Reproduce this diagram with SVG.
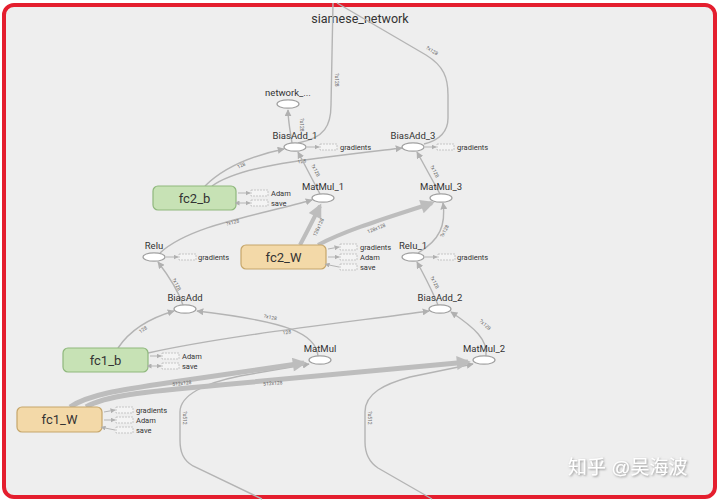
<svg xmlns="http://www.w3.org/2000/svg" width="720" height="501" viewBox="0 0 720 501">
<defs>
<style>
.e{fill:none;stroke:#b4b4b4;stroke-width:1.4}
.t{fill:none;stroke:#bdbdbd;stroke-width:5}
.op{fill:#fff;stroke:#a0a0a0;stroke-width:1.2}
.lb{font-family:Roboto,"Liberation Sans",sans-serif;font-size:9.5px;fill:#333;text-anchor:middle}
.sm{font-family:Roboto,"Liberation Sans",sans-serif;font-size:7.5px;fill:#333}
.el{font-family:Roboto,"Liberation Sans",sans-serif;font-size:5px;fill:#666;text-anchor:middle}
.db{fill:#f4f4f4;stroke:#bbb;stroke-width:0.8;stroke-dasharray:2,1}
.sa{fill:none;stroke:#b4b4b4;stroke-width:1}
.vb{font-family:Roboto,"Liberation Sans",sans-serif;font-size:13px;fill:#333;text-anchor:middle}
.gb{fill:#c7e2b5;stroke:#8fb87d;stroke-width:1.2}
.ob{fill:#f3d9a8;stroke:#c6a66a;stroke-width:1.2}
</style>
<marker id="a" viewBox="0 0 10 10" refX="9" refY="5" markerUnits="userSpaceOnUse" markerWidth="7" markerHeight="7" orient="auto"><path d="M0,0 L10,5 L0,10 z" fill="#b0b0b0"/></marker>
<marker id="as" viewBox="0 0 10 10" refX="1" refY="5" markerUnits="userSpaceOnUse" markerWidth="5" markerHeight="5" orient="auto-start-reverse"><path d="M0,0 L10,5 L0,10 z" fill="#b0b0b0"/></marker>
<marker id="ae" viewBox="0 0 10 10" refX="9" refY="5" markerUnits="userSpaceOnUse" markerWidth="5" markerHeight="5" orient="auto"><path d="M0,0 L10,5 L0,10 z" fill="#b0b0b0"/></marker>
<marker id="at" viewBox="0 0 10 10" refX="8" refY="5" markerUnits="userSpaceOnUse" markerWidth="18" markerHeight="14" orient="auto"><path d="M0,0 L10,5 L0,10 z" fill="#bdbdbd"/></marker>
<filter id="sh" x="-10%" y="-30%" width="120%" height="160%"><feDropShadow dx="1" dy="1" stdDeviation="0.8" flood-color="#777" flood-opacity="0.8"/></filter>
</defs>
<rect x="0" y="0" width="720" height="501" fill="#fff"/>
<rect x="4" y="5" width="711" height="492" rx="10" fill="#eeeeee" stroke="#e41e2e" stroke-width="4"/>
<text x="360" y="23" class="lb" style="font-size:12.5px">siamese_network</text>

<g id="connectors">
<path class="e" d="M298 143 C325 138 331 125 331 105 L333 3"/>
<text class="el" transform="translate(335 80) rotate(90)">?x128</text>
<path class="e" d="M337 3 L426 55 C444 66 448 78 448 95 L448 118 C448 132 440 140 424 144"/>
<text class="el" transform="translate(431 52) rotate(33)">?x128</text>
<path class="e" d="M292 143 C290 130 288 120 288 110" marker-end="url(#a)"/>
<text class="el" transform="translate(300 125) rotate(90)">?x128</text>
<path class="e" d="M205 186 C225 166 255 155 284 149" marker-end="url(#a)"/>
<text class="el" transform="translate(242 167) rotate(-25)">128</text>
<path class="e" d="M212 186 C240 166 300 160 402 148" marker-end="url(#a)"/>
<text class="el" transform="translate(302 163) rotate(-8)">128</text>
<path class="e" d="M320 194 L298 152" marker-end="url(#a)"/>
<text class="el" transform="translate(314 171) rotate(62)">?x128</text>
<path class="e" d="M440 194 L417 152" marker-end="url(#a)"/>
<text class="el" transform="translate(433 172) rotate(62)">?x128</text>
<path class="e" d="M160 253 C190 225 260 215 312 200" marker-end="url(#a)"/>
<text class="el" transform="translate(233 224) rotate(-15)">?x128</text>
<path class="e" d="M418 253 C440 240 446 225 443 203" marker-end="url(#a)"/>
<text class="el" transform="translate(446 232) rotate(-62)">?x128</text>
<path class="e" d="M183 305 C178 290 168 275 158 262" marker-end="url(#a)"/>
<text class="el" transform="translate(175 285) rotate(62)">?x128</text>
<path class="e" d="M438 305 C432 290 424 275 417 262" marker-end="url(#a)"/>
<text class="el" transform="translate(433 283) rotate(62)">?x128</text>
<path class="e" d="M118 348 C130 330 150 318 174 311" marker-end="url(#a)"/>
<text class="el" transform="translate(144 331) rotate(-35)">128</text>
<path class="e" d="M148 353 C230 335 350 322 429 311" marker-end="url(#a)"/>
<text class="el" transform="translate(287 334) rotate(-7)">128</text>
<path class="e" d="M318 356 C316 334 290 322 197 311" marker-end="url(#a)"/>
<text class="el" transform="translate(270 319) rotate(12)">?x128</text>
<path class="e" d="M486 356 C488 340 475 328 451 312" marker-end="url(#a)"/>
<text class="el" transform="translate(484 326) rotate(42)">?x128</text>
<path class="e" d="M262 499 L193 466 C183 460 180 452 180 440 L180 412 C180 395 205 383 240 376 L309 364" marker-end="url(#a)"/>
<text class="el" transform="translate(183 418) rotate(90)">?x512</text>
<path class="e" d="M432 499 L378 468 C369 462 365 454 365 442 L365 412 C365 393 385 384 410 377 L473 364" marker-end="url(#a)"/>
<text class="el" transform="translate(368 418) rotate(90)">?x512</text>
<path class="t" style="stroke-width:4" d="M300 245 C308 230 315 216 320 206" marker-end="url(#at)"/>
<text class="el" transform="translate(320 228) rotate(-65)">128x128</text>
<path class="t" style="stroke-width:4" d="M318 245 C350 228 400 214 432 203" marker-end="url(#at)"/>
<text class="el" transform="translate(377 230) rotate(-22)">128x128</text>
<path class="t" d="M70 407 C90 394 120 390 180 381 L304 363" marker-end="url(#at)"/>
<text class="el" transform="translate(182 385) rotate(-6)">512x128</text>
<path class="t" d="M86 407 C105 396 140 392 220 385 L468 362" marker-end="url(#at)"/>
<text class="el" transform="translate(273 385) rotate(-5)">512x128</text>
</g>

<g id="network_">
<ellipse class="op" cx="288" cy="104" rx="11" ry="4.2"/>
<text class="lb" x="288" y="96">network_...</text>
</g>
<g id="BiasAdd_1">
<ellipse class="op" cx="295" cy="147" rx="11" ry="4.2"/>
<text class="lb" x="295" y="139">BiasAdd_1</text>
<path class="sa" d="M307 147 L319 147" marker-end="url(#ae)"/>
<rect class="db" x="320" y="144" width="17" height="6"/>
<text class="sm" x="340" y="150">gradients</text>
</g>
<g id="BiasAdd_3">
<ellipse class="op" cx="413" cy="147" rx="11" ry="4.2"/>
<text class="lb" x="413" y="139">BiasAdd_3</text>
<path class="sa" d="M425 147 L436 147" marker-end="url(#ae)"/>
<rect class="db" x="437" y="144" width="17" height="6"/>
<text class="sm" x="457" y="150">gradients</text>
</g>
<g id="MatMul_1">
<ellipse class="op" cx="323" cy="198" rx="11" ry="4.2"/>
<text class="lb" x="323" y="190">MatMul_1</text>
</g>
<g id="MatMul_3">
<ellipse class="op" cx="441" cy="198" rx="11" ry="4.2"/>
<text class="lb" x="441" y="190">MatMul_3</text>
</g>
<g id="Relu">
<ellipse class="op" cx="154" cy="257" rx="11" ry="4.2"/>
<text class="lb" x="154" y="249">Relu</text>
<path class="sa" d="M166 257 L178 257" marker-end="url(#ae)"/>
<rect class="db" x="179" y="254" width="17" height="6"/>
<text class="sm" x="198" y="260">gradients</text>
</g>
<g id="Relu_1">
<ellipse class="op" cx="413" cy="257" rx="11" ry="4.2"/>
<text class="lb" x="413" y="249">Relu_1</text>
<path class="sa" d="M425 257 L437 257" marker-end="url(#ae)"/>
<rect class="db" x="438" y="254" width="17" height="6"/>
<text class="sm" x="457" y="260">gradients</text>
</g>
<g id="BiasAdd">
<ellipse class="op" cx="185" cy="309" rx="11" ry="4.2"/>
<text class="lb" x="185" y="301">BiasAdd</text>
</g>
<g id="BiasAdd_2">
<ellipse class="op" cx="440" cy="309" rx="11" ry="4.2"/>
<text class="lb" x="440" y="301">BiasAdd_2</text>
</g>
<g id="MatMul">
<ellipse class="op" cx="320" cy="360" rx="11" ry="4.2"/>
<text class="lb" x="320" y="352">MatMul</text>
</g>
<g id="MatMul_2">
<ellipse class="op" cx="484" cy="360" rx="11" ry="4.2"/>
<text class="lb" x="484" y="352">MatMul_2</text>
</g>

<g id="fc2_b">
<rect class="gb" x="153" y="186" width="83" height="24" rx="5"/>
<text class="vb" x="194.5" y="202.5">fc2_b</text>
<path class="sa" d="M238 193 L250 193" marker-end="url(#ae)"/>
<rect class="db" x="251" y="190" width="17" height="6"/>
<text class="sm" x="271" y="196">Adam</text>
<path class="sa" d="M239 203 L250 203" marker-start="url(#as)" marker-end="url(#ae)"/>
<rect class="db" x="251" y="200" width="17" height="6"/>
<text class="sm" x="271" y="206">save</text>
</g>
<g id="fc2_W">
<rect class="ob" x="241" y="245" width="85" height="24" rx="5"/>
<text class="vb" x="283.5" y="261.5">fc2_W</text>
<path class="sa" d="M328 249 L339 247" marker-end="url(#ae)"/>
<rect class="db" x="340" y="244" width="17" height="6"/>
<text class="sm" x="360" y="250">gradients</text>
<path class="sa" d="M328 257 L339 257" marker-end="url(#ae)"/>
<rect class="db" x="340" y="254" width="17" height="6"/>
<text class="sm" x="360" y="260">Adam</text>
<path class="sa" d="M329 265 L339 267" marker-start="url(#as)"/>
<rect class="db" x="340" y="264" width="17" height="6"/>
<text class="sm" x="360" y="270">save</text>
</g>
<g id="fc1_b">
<rect class="gb" x="63" y="348" width="85" height="24" rx="5"/>
<text class="vb" x="105.5" y="364.5">fc1_b</text>
<path class="sa" d="M150 356 L161 356" marker-end="url(#ae)"/>
<rect class="db" x="162" y="353" width="17" height="6"/>
<text class="sm" x="182" y="359">Adam</text>
<path class="sa" d="M151 366 L161 366" marker-start="url(#as)" marker-end="url(#ae)"/>
<rect class="db" x="162" y="363" width="17" height="6"/>
<text class="sm" x="182" y="369">save</text>
</g>
<g id="fc1_W">
<rect class="ob" x="17" y="407" width="85" height="25" rx="5"/>
<text class="vb" x="59.5" y="424">fc1_W</text>
<path class="sa" d="M104 412 L115 410" marker-end="url(#ae)"/>
<rect class="db" x="116" y="407" width="17" height="6"/>
<text class="sm" x="136" y="413">gradients</text>
<path class="sa" d="M104 420 L115 420" marker-end="url(#ae)"/>
<rect class="db" x="116" y="417" width="17" height="6"/>
<text class="sm" x="136" y="423">Adam</text>
<path class="sa" d="M105 428 L115 430" marker-start="url(#as)"/>
<rect class="db" x="116" y="427" width="17" height="6"/>
<text class="sm" x="136" y="433">save</text>
</g>

<text x="568" y="474" filter="url(#sh)" style="font-family:'Liberation Sans','Noto Sans CJK SC',sans-serif;font-size:19px;fill:#ffffff">知乎 @吴海波</text>
</svg>
